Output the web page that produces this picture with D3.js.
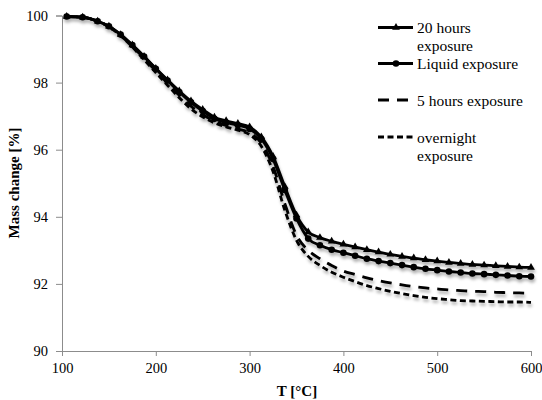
<!DOCTYPE html>
<html><head><meta charset="utf-8">
<script src="https://cdn.jsdelivr.net/npm/d3@7"></script>
<style>body{margin:0;background:#fff}svg{display:block}text{font-family:"Liberation Serif","Times New Roman",serif}</style>
</head><body>
<svg id="c" width="542" height="400"></svg>
<script>
const temps = [105,122,138,150,162.5,175,187.5,200,212.5,225,237.5,250,262.5,275,287.5,300,312.5,325,337.5,350,362.5,375,387.5,400,412.5,425,437.5,450,462.5,475,487.5,500,512.5,525,537.5,550,562.5,575,587.5,600];
const hours20 = [99.97,99.95,99.83,99.68,99.43,99.12,98.78,98.42,98.08,97.75,97.45,97.2,96.97,96.86,96.78,96.68,96.38,95.8,94.9,94.05,93.55,93.38,93.27,93.18,93.1,93.02,92.95,92.88,92.82,92.77,92.72,92.68,92.64,92.61,92.58,92.56,92.54,92.52,92.5,92.49];
const liquid = [99.97,99.95,99.83,99.68,99.43,99.12,98.78,98.41,98.06,97.72,97.41,97.15,96.92,96.81,96.73,96.62,96.32,95.72,94.8,93.95,93.35,93.15,93.02,92.93,92.84,92.75,92.68,92.62,92.56,92.5,92.45,92.41,92.37,92.34,92.31,92.29,92.27,92.25,92.23,92.22];
const hours5 = [99.97,99.95,99.83,99.66,99.4,99.08,98.72,98.35,97.98,97.62,97.3,97.05,96.85,96.72,96.62,96.5,96.2,95.5,94.4,93.45,93.0,92.75,92.55,92.38,92.28,92.18,92.1,92.03,91.97,91.92,91.88,91.85,91.82,91.8,91.78,91.77,91.75,91.74,91.73,91.72];
const overnight = [99.97,99.95,99.83,99.66,99.4,99.06,98.68,98.3,97.92,97.55,97.22,96.98,96.8,96.68,96.58,96.45,96.1,95.35,94.2,93.3,92.82,92.55,92.35,92.2,92.07,91.95,91.86,91.78,91.71,91.65,91.6,91.56,91.53,91.5,91.49,91.48,91.47,91.46,91.46,91.45];
const xTicks = [100,200,300,400,500,600];
const yTicks = [90,92,94,96,98,100];
const legendLabels = [["20 hours","exposure"],["Liquid exposure"],["5 hours exposure"],["overnight","exposure"]];

const svg = d3.select("#c");
const x = d3.scaleLinear().domain([100,600]).range([62,531]);
const y = d3.scaleLinear().domain([90,100]).range([351,15.5]);
const axisColor = "#8c8c8c";

const defs = svg.append("defs");
const f = defs.append("filter").attr("id","sh").attr("x","-5%").attr("y","-5%").attr("width","110%").attr("height","130%");
f.append("feDropShadow").attr("dx",1).attr("dy",3).attr("stdDeviation",1.5).attr("flood-color","#000").attr("flood-opacity",0.3);

// axes
const ya = svg.append("g").attr("transform","translate(62,0)").call(d3.axisLeft(y).tickValues(yTicks).tickSize(6).tickPadding(8).tickFormat(d3.format("d")));
const xa = svg.append("g").attr("transform","translate(0,351)").call(d3.axisBottom(x).tickValues(xTicks).tickSize(5).tickPadding(7).tickFormat(d3.format("d")));
[ya,xa].forEach(a=>{
  a.select(".domain").attr("stroke",axisColor).attr("stroke-width",1);
  a.selectAll(".tick line").attr("stroke",axisColor);
  a.selectAll(".tick text").attr("fill","#000").style("font-size","14.5px").style("font-family","'Liberation Serif',serif");
});

svg.append("text").attr("transform","translate(19,183) rotate(-90)").attr("text-anchor","middle")
  .style("font-size","15px").style("font-weight","bold").text("Mass change [%]");
svg.append("text").attr("x",297).attr("y",396).attr("text-anchor","middle")
  .style("font-size","15px").style("font-weight","bold").text("T [°C]");

const series = [
  {vals:hours20, dash:null, marker:"tri"},
  {vals:liquid, dash:null, marker:"circ"},
  {vals:hours5, dash:"11,8", marker:null},
  {vals:overnight, dash:"6,3.5", marker:null}
];
const line = d3.line().x((d,i)=>x(temps[i])).y(d=>y(d)).curve(d3.curveMonotoneX);
const g = svg.append("g").attr("filter","url(#sh)");
series.slice().reverse().forEach(s=>{
  g.append("path").datum(s.vals).attr("d",line).attr("fill","none").attr("stroke","#000")
    .attr("stroke-width",2.8).attr("stroke-dasharray",s.dash);
  if(s.marker==="tri"){
    g.selectAll(null).data(s.vals).enter().append("path")
      .attr("d",d3.symbol(d3.symbolTriangle,26)())
      .attr("transform",(d,i)=>`translate(${x(temps[i])},${y(d)})`).attr("fill","#000");
  } else if(s.marker==="circ"){
    g.selectAll(null).data(s.vals).enter().append("circle")
      .attr("cx",(d,i)=>x(temps[i])).attr("cy",d=>y(d)).attr("r",3.3).attr("fill","#000");
  }
});

// legend
const legY = [27.5,63.5,100,137];
const lg = svg.append("g");
series.forEach((s,i)=>{
  lg.append("line").attr("x1",378).attr("x2",413).attr("y1",legY[i]).attr("y2",legY[i])
    .attr("stroke","#000").attr("stroke-width",2.8).attr("stroke-dasharray",s.dash);
  if(s.marker==="tri") lg.append("path").attr("d",d3.symbol(d3.symbolTriangle,26)()).attr("transform",`translate(396,${legY[i]})`);
  if(s.marker==="circ") lg.append("circle").attr("cx",396).attr("cy",legY[i]).attr("r",3.3);
  legendLabels[i].forEach((t,j)=>{
    lg.append("text").attr("x",417).attr("y",legY[i]+5.5+j*18).style("font-size","15.5px").text(t);
  });
});
</script>
</body></html>
